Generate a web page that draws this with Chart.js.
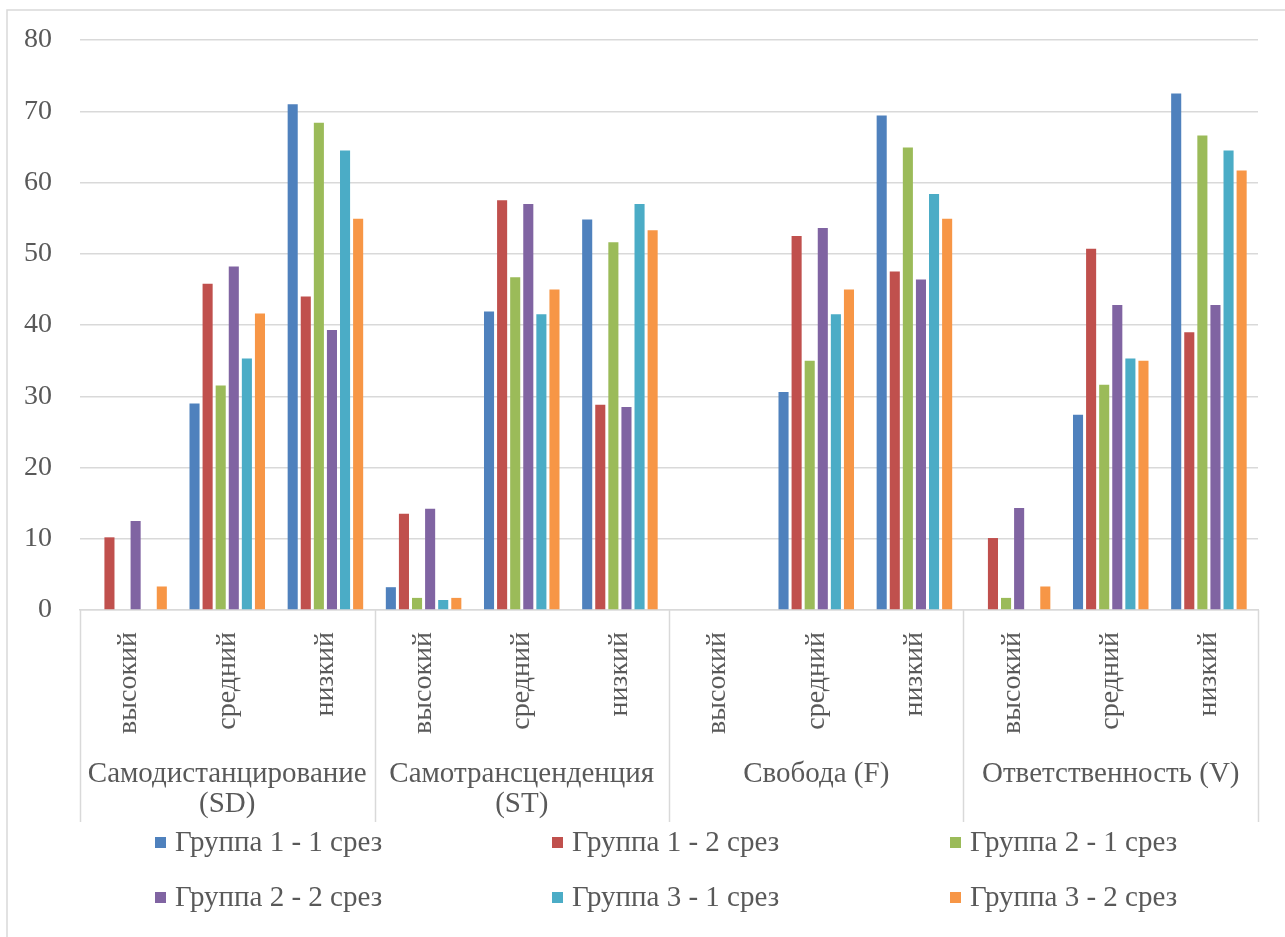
<!DOCTYPE html>
<html>
<head>
<meta charset="utf-8">
<script src="https://cdn.jsdelivr.net/npm/chart.js@4/dist/chart.umd.min.js"></script>
<style>
  html, body { margin: 0; padding: 0; background: #ffffff; }
  #wrap { width: 1285px; height: 937px; }
</style>
</head>
<body>
<div id="wrap"><canvas id="chart" width="1285" height="937"></canvas></div>
<script>
// Sub-categories (levels) and top-level groups of the multi-level axis
const levels = ['высокий', 'средний', 'низкий'];
const groups = [
  ['Самодистанцирование', '(SD)'],
  ['Самотрансценденция', '(ST)'],
  ['Свобода (F)'],
  ['Ответственность (V)']
];
const yTicks = [0, 10, 20, 30, 40, 50, 60, 70, 80];

// Series values, in order: SD (выс, ср, низ), ST, F, V
const seriesNames = [
  'Группа 1 - 1 срез', 'Группа 1 - 2 срез', 'Группа 2 - 1 срез',
  'Группа 2 - 2 срез', 'Группа 3 - 1 срез', 'Группа 3 - 2 срез'
];
const group1cut1 = [0, 29.0, 71.0, 3.2, 41.9, 54.8, 0, 30.6, 69.4, 0, 27.4, 72.5];
const group1cut2 = [10.2, 45.8, 44.0, 13.5, 57.5, 28.8, 0, 52.5, 47.5, 10.1, 50.7, 39.0];
const group2cut1 = [0, 31.5, 68.4, 1.7, 46.7, 51.6, 0, 35.0, 64.9, 1.7, 31.6, 66.6];
const group2cut2 = [12.5, 48.2, 39.3, 14.2, 57.0, 28.5, 0, 53.6, 46.4, 14.3, 42.8, 42.8];
const group3cut1 = [0, 35.3, 64.5, 1.4, 41.5, 57.0, 0, 41.5, 58.4, 0, 35.3, 64.5];
const group3cut2 = [3.3, 41.6, 54.9, 1.7, 45.0, 53.3, 0, 45.0, 54.9, 3.3, 35.0, 61.7];

const seriesValues = [group1cut1, group1cut2, group2cut1, group2cut2, group3cut1, group3cut2];
const seriesColors = ['#4F81BD', '#C0504D', '#9BBB59', '#8064A2', '#4BACC6', '#F79646'];

const FONT = "'Liberation Serif', 'Times New Roman', serif";
const FONT_SIZE = 28;
const LABEL_SIZE = 29;
const TEXT = '#595959';
const LINE = '#d9d9d9';

const categories = [];
groups.forEach(() => levels.forEach(l => categories.push(l)));

// White background and the frame edges along the top and left
const framePlugin = {
  id: 'frame',
  beforeDraw(chart) {
    const ctx = chart.ctx;
    ctx.save();
    ctx.fillStyle = '#ffffff';
    ctx.fillRect(0, 0, chart.width, chart.height);
    ctx.strokeStyle = LINE;
    ctx.lineWidth = 1.5;
    ctx.beginPath();
    ctx.moveTo(chart.width, 10);
    ctx.lineTo(7, 10);
    ctx.lineTo(7, chart.height);
    ctx.stroke();
    ctx.restore();
  }
};

// Group row of the multi-level category axis: separators and group names
const groupAxisPlugin = {
  id: 'groupAxis',
  afterDraw(chart) {
    const ctx = chart.ctx;
    const x = chart.scales.x;
    const area = chart.chartArea;
    const n = levels.length;
    const half = (x.getPixelForValue(1) - x.getPixelForValue(0)) / 2;
    const lineBottom = 822;
    ctx.save();
    ctx.strokeStyle = LINE;
    ctx.lineWidth = 1.5;
    for (let g = 0; g <= groups.length; g++) {
      const px = Math.round(x.getPixelForValue(g * n) - half) + 0.5;
      ctx.beginPath();
      ctx.moveTo(px, area.bottom);
      ctx.lineTo(px, lineBottom);
      ctx.stroke();
    }
    ctx.fillStyle = TEXT;
    ctx.font = LABEL_SIZE + 'px ' + FONT;
    ctx.textAlign = 'center';
    ctx.textBaseline = 'middle';
    groups.forEach((lines, g) => {
      const left = x.getPixelForValue(g * n) - half;
      const right = x.getPixelForValue(g * n + n - 1) + half;
      const cx = (left + right) / 2;
      lines.forEach((t, i) => ctx.fillText(t, cx, 774 + i * 30));
    });
    ctx.restore();
  }
};

// Legend laid out in three equal columns, two rows
const gridLegendPlugin = {
  id: 'gridLegend',
  afterDraw(chart) {
    const ctx = chart.ctx;
    const colX = [155, 552, 950];
    const rowY = [843, 898];
    ctx.save();
    ctx.font = LABEL_SIZE + 'px ' + FONT;
    ctx.textBaseline = 'middle';
    ctx.textAlign = 'left';
    chart.data.datasets.forEach((ds, i) => {
      const cx = colX[i % 3];
      const cy = rowY[Math.floor(i / 3)];
      ctx.fillStyle = ds.backgroundColor;
      ctx.fillRect(cx, cy - 6, 11, 11);
      ctx.fillStyle = TEXT;
      ctx.fillText(ds.label, cx + 20, cy);
    });
    ctx.restore();
  }
};

new Chart(document.getElementById('chart'), {
  type: 'bar',
  data: {
    labels: categories,
    datasets: seriesNames.map((name, i) => ({
      label: name,
      data: seriesValues[i],
      backgroundColor: seriesColors[i],
      borderWidth: 0,
      categoryPercentage: 0.8,
      barPercentage: 0.77
    }))
  },
  options: {
    responsive: false,
    animation: false,
    devicePixelRatio: 1,
    layout: { padding: { top: 40, right: 27, left: 0, bottom: 0 } },
    plugins: {
      legend: { display: false },
      tooltip: { enabled: false }
    },
    scales: {
      x: {
        grid: { display: false, drawTicks: false },
        border: { display: true, color: LINE, width: 1.5 },
        ticks: {
          color: TEXT,
          font: { family: FONT, size: FONT_SIZE },
          minRotation: 90,
          maxRotation: 90,
          autoSkip: false,
          padding: 22
        },
        afterFit(scale) { scale.height = 327; }
      },
      y: {
        min: 0,
        max: 80,
        afterBuildTicks(scale) { scale.ticks = yTicks.map(v => ({ value: v })); },
        grid: { color: LINE, lineWidth: 1.5, drawTicks: false },
        border: { display: false },
        ticks: {
          color: TEXT,
          font: { family: FONT, size: FONT_SIZE },
          padding: 28
        },
        afterFit(scale) {
          scale.width = 80;
          scale.paddingTop = 0;
          scale.paddingBottom = 0;
        }
      }
    }
  },
  plugins: [framePlugin, groupAxisPlugin, gridLegendPlugin]
});
</script>
</body>
</html>
